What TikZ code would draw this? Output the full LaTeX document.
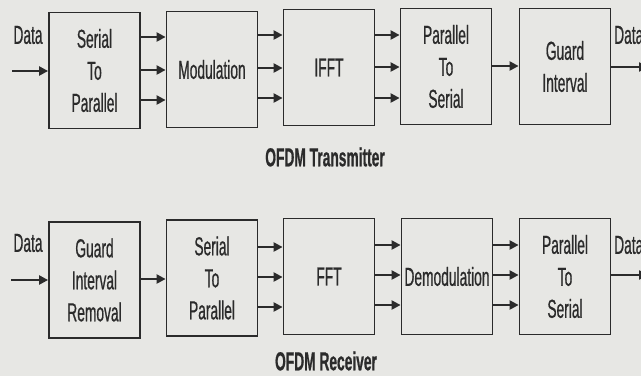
\documentclass[tikz,border=0pt]{standalone}
\usepackage{fontspec}
\setmainfont{Liberation Sans}[FakeStretch=0.53,FakeBold=0.6]
\usepackage{tikz}
\usetikzlibrary{arrows.meta,positioning}
\definecolor{paper}{HTML}{E7E7E4}
\definecolor{ink}{HTML}{2B2B2B}
\tikzset{
  blk/.style={draw=ink, line width=1.8pt, minimum width=91pt, minimum height=116pt,
    inner sep=0pt, align=center, text=ink, font=\fontsize{26}{32}\selectfont},
  sig/.style={draw=ink, line width=2.2pt, -{Triangle[length=9pt,width=9pt]}},
  lbl/.style={text=ink, inner sep=0pt, font=\fontsize{26}{28}\selectfont},
  ttl/.style={text=ink, inner sep=0pt, font=\bfseries\fontsize{26}{28}\selectfont},
}

\begin{document}
\begin{tikzpicture}[x=1pt,y=-1pt]
      \fill[paper] (0,0) rectangle (641,376);
      \useasboundingbox (0,0) rectangle (641,376);

      % transmitter
      \node[blk] (t1) at (94.5,70.5) {Serial\\To\\Parallel};
      \node[blk] (t2) at (212,69.5) {Modulation};
      \node[blk] (t3) at (329,67.5) {IFFT};
      \node[blk] (t4) at (446,66.5) {Parallel\\To\\Serial};
      \node[blk] (t5) at (565,66.5) {Guard\\Interval};

      \node[lbl] (tin) at (28,35) {Data};
      \node[lbl,anchor=west] (tout) at (614,35) {Data};
      \coordinate (tsrc) at (12,71);
      \coordinate (tdst) at (648,67);

      \draw[sig] (tsrc) -- (t1.west |- tsrc);
      \draw[sig] (t1.east |- 0,37) -- (t2.west |- 0,37);
      \draw[sig] (t1.east |- 0,70) -- (t2.west |- 0,70);
      \draw[sig] (t1.east |- 0,100) -- (t2.west |- 0,100);
      \draw[sig] (t2.east |- 0,35) -- (t3.west |- 0,35);
      \draw[sig] (t2.east |- 0,68) -- (t3.west |- 0,68);
      \draw[sig] (t2.east |- 0,98) -- (t3.west |- 0,98);
      \draw[sig] (t3.east |- 0,35) -- (t4.west |- 0,35);
      \draw[sig] (t3.east |- 0,67) -- (t4.west |- 0,67);
      \draw[sig] (t3.east |- 0,98) -- (t4.west |- 0,98);
      \draw[sig] (t4.east |- 0,66) -- (t5.west |- 0,66);
      \draw[sig] (t5.east |- tdst) -- (tdst);

      \node[ttl] (tcap) at (325,157) {OFDM Transmitter};

      % receiver
      \node[blk] (r1) at (94.5,280) {Guard\\Interval\\Removal};
      \node[blk] (r2) at (212,278) {Serial\\To\\Parallel};
      \node[blk] (r3) at (329,276.5) {FFT};
      \node[blk] (r4) at (447,276.5) {Demodulation};
      \node[blk] (r5) at (565,276.5) {Parallel\\To\\Serial};

      \node[lbl] (rin) at (28,243) {Data};
      \node[lbl,anchor=west] (rout) at (614,245) {Data};
      \coordinate (rsrc) at (11,280);
      \coordinate (rdst) at (648,275);

      \draw[sig] (rsrc) -- (r1.west |- rsrc);
      \draw[sig] (r1.east |- 0,279) -- (r2.west |- 0,279);
      \draw[sig] (r2.east |- 0,247) -- (r3.west |- 0,247);
      \draw[sig] (r2.east |- 0,277) -- (r3.west |- 0,277);
      \draw[sig] (r2.east |- 0,307) -- (r3.west |- 0,307);
      \draw[sig] (r3.east |- 0,245) -- (r4.west |- 0,245);
      \draw[sig] (r3.east |- 0,275) -- (r4.west |- 0,275);
      \draw[sig] (r3.east |- 0,305) -- (r4.west |- 0,305);
      \draw[sig] (r4.east |- 0,245) -- (r5.west |- 0,245);
      \draw[sig] (r4.east |- 0,275) -- (r5.west |- 0,275);
      \draw[sig] (r4.east |- 0,305) -- (r5.west |- 0,305);
      \draw[sig] (r5.east |- rdst) -- (rdst);

      \node[ttl] (rcap) at (326,361) {OFDM Receiver};
\end{tikzpicture}
\end{document}
